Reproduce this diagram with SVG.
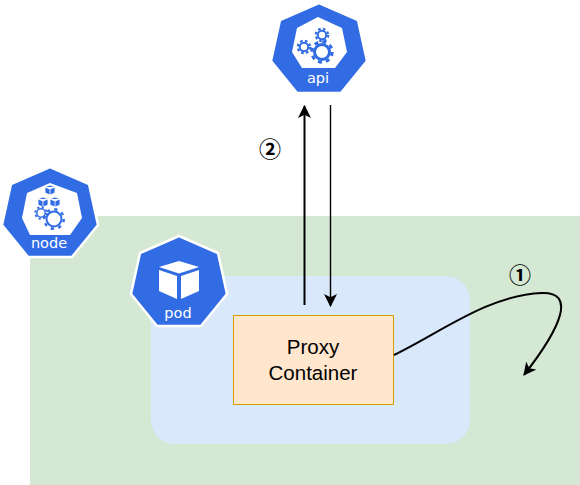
<svg xmlns="http://www.w3.org/2000/svg" width="580" height="485" viewBox="0 0 580 485">
<style>
.hept{fill:#326ce5;stroke:#fff;stroke-width:2.5;stroke-linejoin:round}
.inner{fill:#fff}
.lbl{font-family:"DejaVu Sans",sans-serif;font-size:14.5px;fill:#fff;text-anchor:middle}
.txt{font-family:"Liberation Sans",Arial,sans-serif;font-size:20.500px;fill:#000;text-anchor:middle}
.num{font-family:"Noto Sans CJK JP",sans-serif;font-size:22px;font-weight:700;fill:#000;text-anchor:middle}
.ln{fill:none;stroke:#000;stroke-width:2}
.gb{fill:none;stroke:#326ce5}
.cube{fill:#326ce5;stroke:#fff;stroke-width:.8;stroke-linejoin:round}
</style>
<defs>
<marker id="arr" viewBox="0 0 12 12" refX="11" refY="6" markerWidth="13" markerHeight="13" markerUnits="userSpaceOnUse" orient="auto"><path d="M0 0 L12 6 L0 12 L3 6 Z" fill="#000"/></marker>
<polygon id="hp" class="hept" points="50,0 89,17 98,58 72,90 28,90 2,58 11,17"/>
<g id="gear-l"><circle r="7.500" class="gb" stroke-width="3"/><circle r="10.200" class="gb" stroke-width="3" stroke-dasharray="4 4"/></g>
<g id="gear-s"><circle r="4.200" class="gb" stroke-width="2"/><circle r="6.200" class="gb" stroke-width="2.200" stroke-dasharray="2.600 2.300"/></g>
<g id="gear-n"><circle r="7.500" class="gb" stroke-width="2"/><circle r="9.800" class="gb" stroke-width="2.400" stroke-dasharray="3.200 4.500"/></g>
<g id="gear-m"><circle r="4.200" class="gb" stroke-width="1.500"/><circle r="5.800" class="gb" stroke-width="1.800" stroke-dasharray="2.200 2.350"/></g>
</defs>
<rect id="cluster" x="30" y="216" width="550" height="269" fill="#d5e8d4"/>
<rect id="pod-area" x="151" y="276" width="319" height="168" rx="24" fill="#dae8fc"/>
<g id="proxy">
<rect x="233.500" y="315.500" width="160" height="89" fill="#ffe6cc" stroke="#d79b00"/>
<text class="txt" x="313" y="354">Proxy</text>
<text class="txt" x="313" y="380">Container</text>
</g>
<g id="connectors">
<path class="ln" d="M304.500 305V106" marker-end="url(#arr)"/>
<path class="ln" style="stroke-width:1.400" d="M330.500 105V306" marker-end="url(#arr)"/>
<path class="ln" d="M394 355C440 333 488 295 542 293C575 292 563 325 524 375" marker-end="url(#arr)"/>
</g>
<g id="label-1"><text class="num" x="520" y="283">①</text></g>
<g id="label-2"><text class="num" x="270" y="157">②</text></g>
<g id="api">
<use href="#hp" x="269" y="3"/>
<polygon class="inner" points="318,17 342,28 347,52 335,68 302,68 292,52 297,28"/>
<use href="#gear-l" x="322" y="52"/>
<use href="#gear-s" x="322" y="35"/>
<use href="#gear-s" x="304" y="47"/>
<text class="lbl" x="318" y="83">api</text>
</g>
<g id="node">
<use href="#hp" x="0" y="167"/>
<polygon class="inner" points="50,183 77,193 82,218 70,235 30,235 22,218 27,193"/>
<path class="cube" d="M50 185l5 2v6l-5 2l-5-2v-6zM45 187l5 2l5-2M50 189v6"/>
<path class="cube" d="M43 197l5 2v6l-5 2l-5-2v-6zM38 199l5 2l5-2M43 201v6"/>
<path class="cube" d="M55 197l5 2v6l-5 2l-5-2v-6zM50 199l5 2l5-2M55 201v6"/>
<use href="#gear-n" x="54" y="219"/>
<use href="#gear-m" x="41" y="213"/>
<text class="lbl" x="49" y="248">node</text>
</g>
<g id="pod">
<use href="#hp" x="129" y="236"/>
<polygon class="inner" points="179,261 199,267 179,273.500 159,267"/>
<polygon class="inner" points="159,270 177,276 177,299 159,291"/>
<polygon class="inner" points="181,276 199,270 199,291 181,299"/>
<text class="lbl" x="178" y="318">pod</text>
</g>
</svg>
